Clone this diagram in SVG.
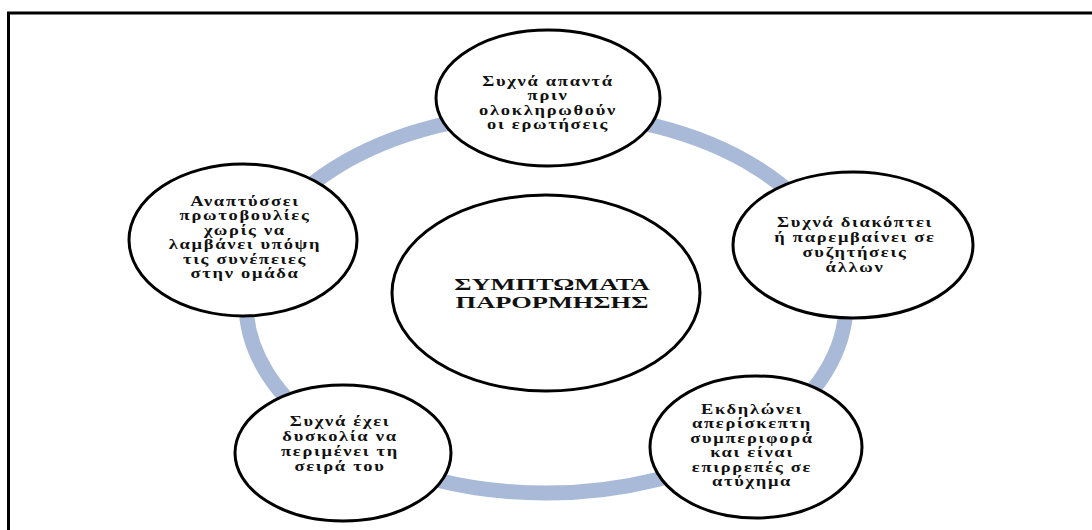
<svg xmlns="http://www.w3.org/2000/svg" width="1092" height="530" viewBox="0 0 1092 530">
<style>
.node{fill:#ffffff;stroke:#000000;stroke-width:3}
.t{font-family:"Liberation Serif","DejaVu Serif",serif;font-weight:bold;font-size:14px;fill:#111111;text-anchor:middle;letter-spacing:1.3px}
.c{font-family:"Liberation Serif","DejaVu Serif",serif;font-weight:bold;font-size:16.5px;fill:#111111;text-anchor:middle}
</style>
<rect width="1092" height="530" fill="#ffffff"/>
<path d="M1092,13 H8.5 V530" fill="none" stroke="#000000" stroke-width="3"/>
<g id="connectors">
<ellipse cx="546" cy="303" rx="300" ry="190" fill="none" stroke="#a9bad8" stroke-width="15"/>
</g>
<g id="node-top">
<ellipse class="node" cx="548" cy="98" rx="112" ry="68"/>
<text class="t" transform="translate(548,0) scale(1.32,1)"><tspan x="0" y="86">Συχνά απαντά</tspan><tspan x="0" y="100.5">πριν</tspan><tspan x="0" y="115">ολοκληρωθούν</tspan><tspan x="0" y="129.5">οι ερωτήσεις</tspan></text>
</g>
<g id="node-right">
<ellipse class="node" cx="853" cy="245" rx="120" ry="73"/>
<text class="t" transform="translate(855,0) scale(1.32,1)"><tspan x="0" y="227">Συχνά διακόπτει</tspan><tspan x="0" y="242">ή παρεμβαίνει σε</tspan><tspan x="0" y="257">συζητήσεις</tspan><tspan x="0" y="272">άλλων</tspan></text>
</g>
<g id="node-left">
<ellipse class="node" cx="243" cy="240" rx="114" ry="76"/>
<text class="t" transform="translate(245,0) scale(1.32,1)"><tspan x="0" y="206">Αναπτύσσει</tspan><tspan x="0" y="220.5">πρωτοβουλίες</tspan><tspan x="0" y="235">χωρίς να</tspan><tspan x="0" y="249.5">λαμβάνει υπόψη</tspan><tspan x="0" y="264">τις  συνέπειες</tspan><tspan x="0" y="278.5">στην ομάδα</tspan></text>
</g>
<g id="node-center">
<ellipse class="node" cx="546" cy="293" rx="154" ry="98"/>
<text class="c" transform="translate(552,0) scale(1.6,1)"><tspan x="0" y="290">ΣΥΜΠΤΩΜΑΤΑ</tspan><tspan x="0" y="308">ΠΑΡΟΡΜΗΣΗΣ</tspan></text>
</g>
<g id="node-bottom-left">
<ellipse class="node" cx="343" cy="453" rx="108" ry="68"/>
<text class="t" transform="translate(340,0) scale(1.32,1)"><tspan x="0" y="426">Συχνά έχει</tspan><tspan x="0" y="441">δυσκολία να</tspan><tspan x="0" y="456">περιμένει τη</tspan><tspan x="0" y="471">σειρά του</tspan></text>
</g>
<g id="node-bottom-right">
<ellipse class="node" cx="756" cy="447" rx="106" ry="71"/>
<text class="t" transform="translate(752,0) scale(1.32,1)"><tspan x="0" y="414">Εκδηλώνει</tspan><tspan x="0" y="428.5">απερίσκεπτη</tspan><tspan x="0" y="443">συμπεριφορά</tspan><tspan x="0" y="457.5">και  είναι</tspan><tspan x="0" y="472">επιρρεπές σε</tspan><tspan x="0" y="486.5">ατύχημα</tspan></text>
</g>
</svg>
